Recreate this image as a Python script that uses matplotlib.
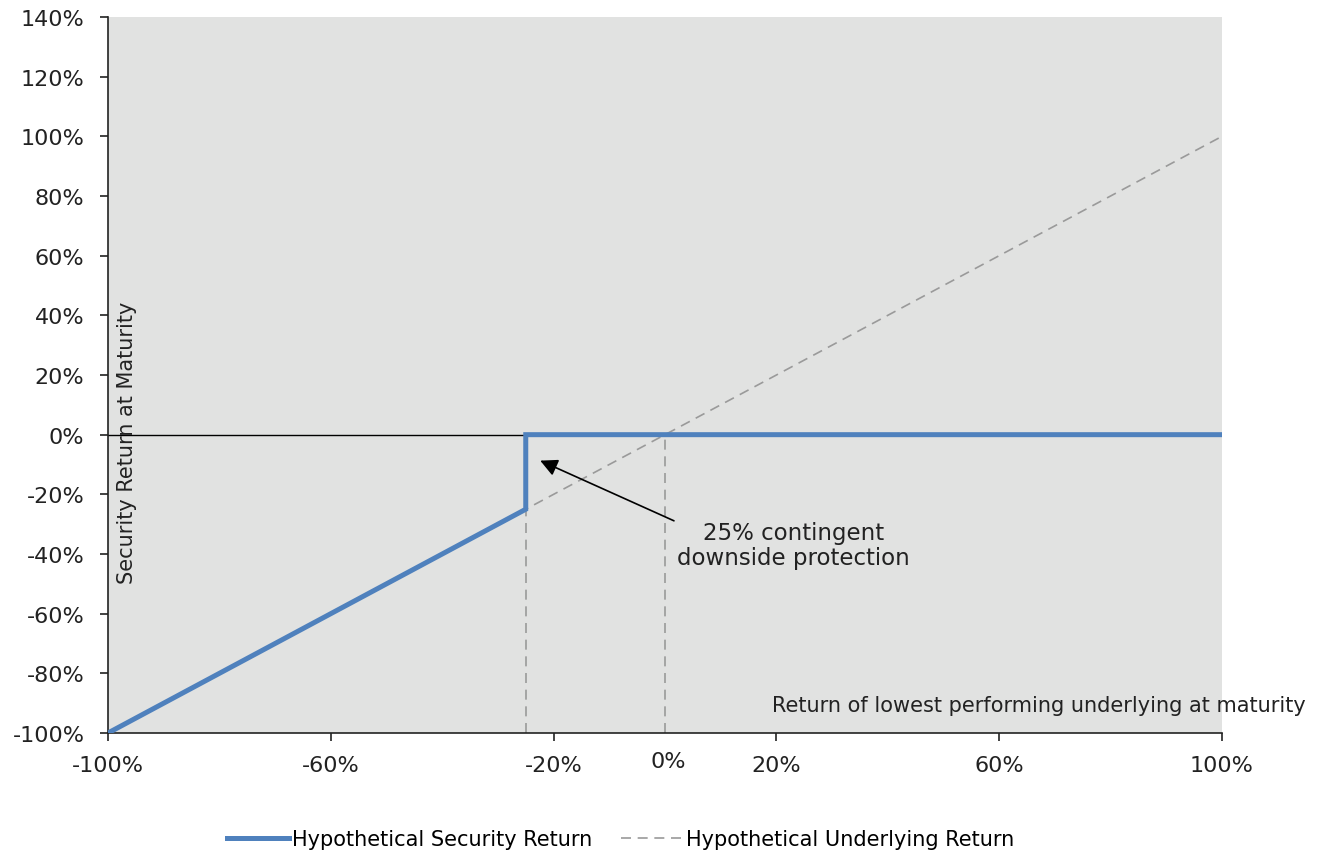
import matplotlib
matplotlib.use("Agg", force=True)
import matplotlib.pyplot as plt
from matplotlib.ticker import FuncFormatter

# payoff data (percent)
underlying_x = [-100, 100]
underlying_y = [-100, 100]
security_x = [-100, -25, -25, 100]
security_y = [-100, -25, 0, 0]
barrier_lines = [-25, 0]
x_ticks = [-100, -60, -20, 20, 60, 100]
y_ticks = list(range(-100, 141, 20))

blue = "#4f81bd"
grey = "#9a9a9a"
bg = "#e1e2e1"

fig = plt.figure(figsize=(13.18, 8.53), dpi=100)
ax = fig.add_axes([108 / 1318, 1 - 734 / 853, (1222 - 108) / 1318, (734 - 18) / 853])
ax.set_facecolor(bg)

ax.axhline(0, color="black", lw=1.0, zorder=2)
for bx in barrier_lines:
    ax.plot([bx, bx], [-100, 0], color=grey, lw=1.2, dashes=(6, 4), zorder=2)
ax.plot(underlying_x, underlying_y, color=grey, lw=1.2, dashes=(6, 4), zorder=2,
        label="Hypothetical Underlying Return")
ax.plot(security_x, security_y, color=blue, lw=3.6, zorder=3, solid_joinstyle="miter",
        label="Hypothetical Security Return")

ax.set_xlim(-100, 100)
ax.set_ylim(-100, 140)
ax.set_xticks(x_ticks)
ax.set_yticks(y_ticks)
pct = FuncFormatter(lambda v, _: f"{v:.0f}%")
ax.xaxis.set_major_formatter(pct)
ax.yaxis.set_major_formatter(pct)
ax.tick_params(labelsize=16, length=6, width=1.2, color="#222222", labelcolor="#222222")
ax.tick_params(axis="x", pad=10)
ax.tick_params(axis="y", pad=11)
for side in ("top", "right"):
    ax.spines[side].set_visible(False)
for side in ("left", "bottom"):
    ax.spines[side].set_linewidth(1.2)
    ax.spines[side].set_color("#222222")

# 0% label sits a bit higher than the other tick labels, with no tick mark
ax.text(0.5, -109.5, "0%", ha="center", va="center", fontsize=16, color="#222222")

ax.text(-96.5, -2.5, "Security Return at Maturity", rotation=90, ha="center", va="center",
        fontsize=15, color="#222222")
ax.text(115.0, -90.5, "Return of lowest performing underlying at maturity", ha="right",
        va="center", fontsize=15, color="#222222", clip_on=False)

ax.annotate("25% contingent\ndownside protection", xy=(-22.4, -8.7), xytext=(23.0, -37),
            ha="center", va="center", fontsize=16.5, color="#222222", linespacing=1.15,
            arrowprops=dict(arrowstyle="-|>", color="black", lw=1.2, mutation_scale=26,
                            shrinkA=0, shrinkB=0, relpos=(0.08, 0.8)))

handles, labels = ax.get_legend_handles_labels()
fig.legend(handles[::-1], labels[::-1], loc="center", bbox_to_anchor=(0.471, 1 - 840 / 853),
           ncol=2, frameon=False, fontsize=15, handlelength=3.0, handletextpad=0.12,
           columnspacing=1.4)

fig.savefig("out.png", dpi=100)
